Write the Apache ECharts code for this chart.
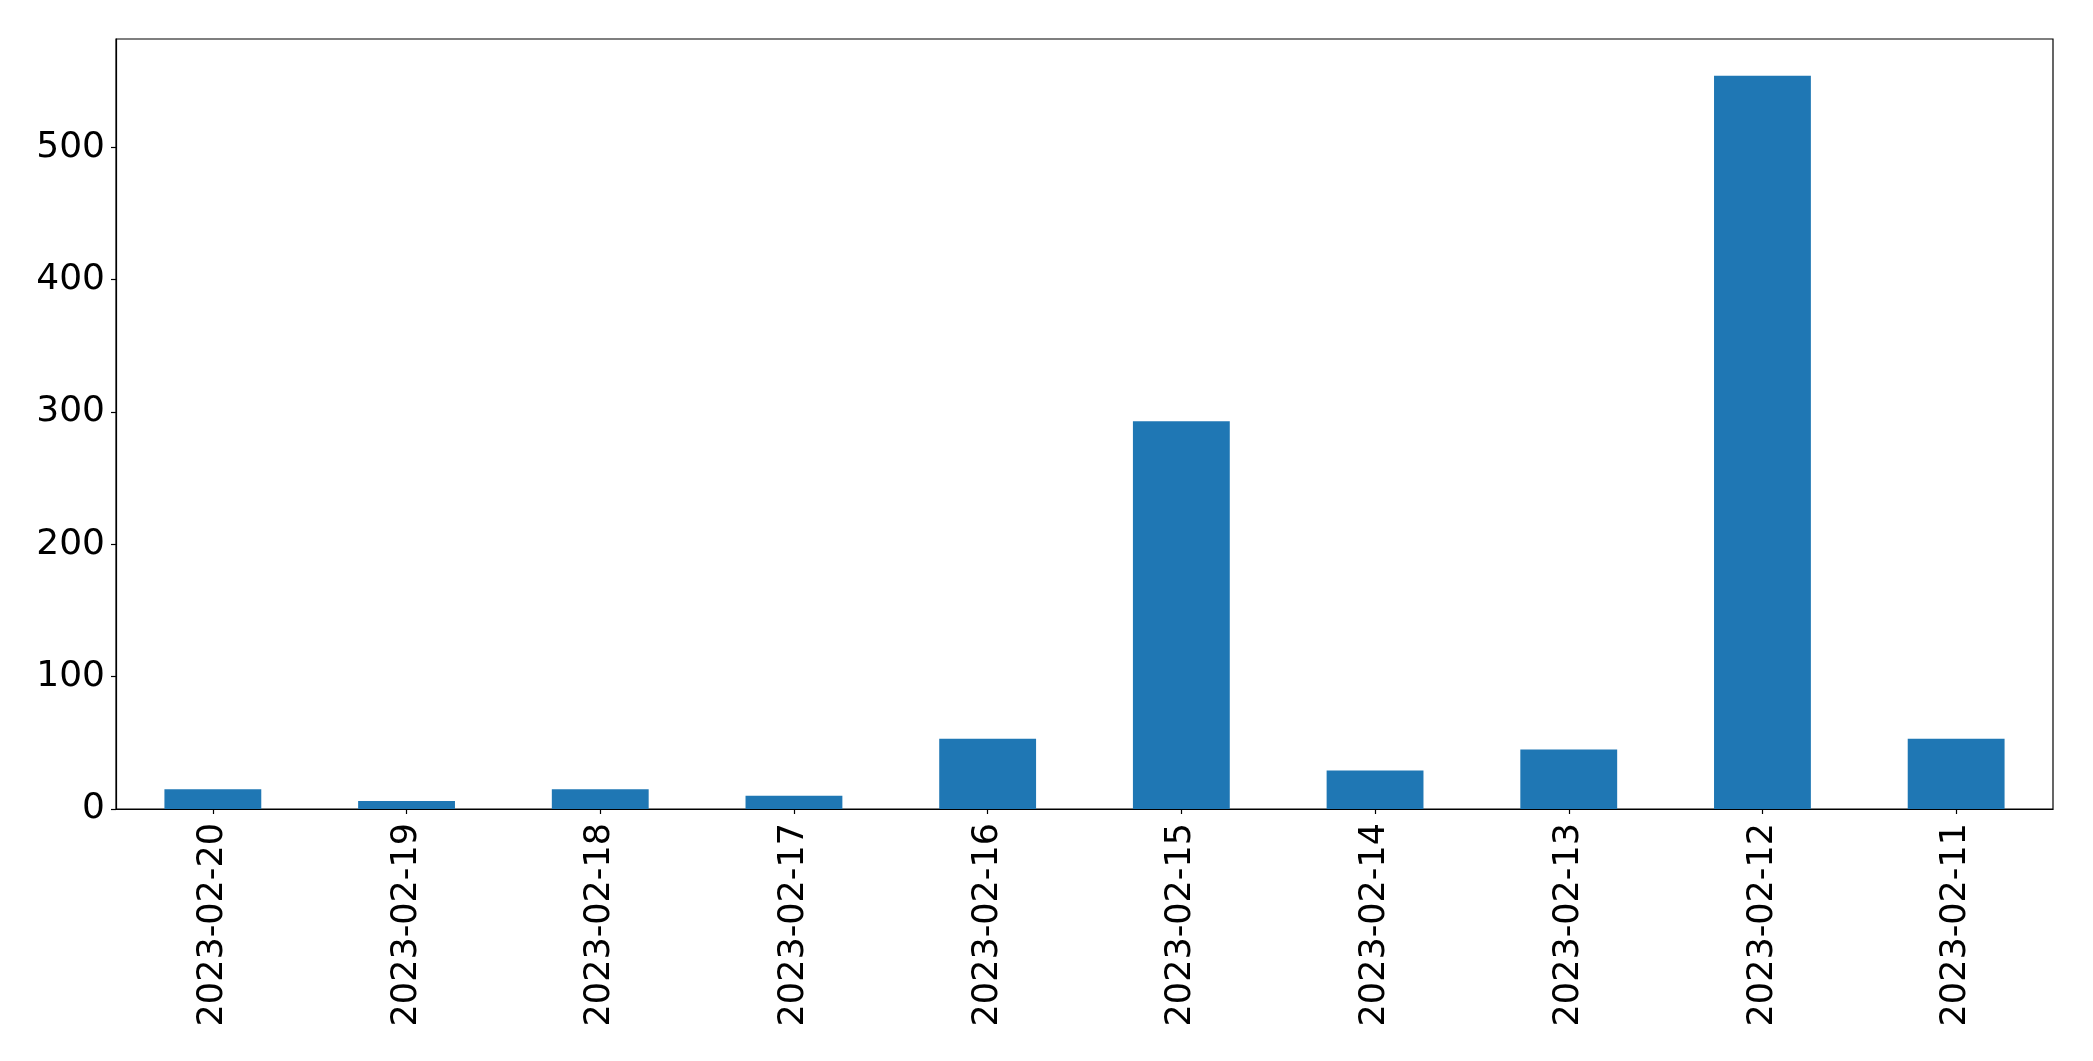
<!DOCTYPE html>
<html>
<head>
<meta charset="utf-8">
<script src="https://cdn.jsdelivr.net/npm/echarts@6/dist/echarts.min.js"></script>
<style>
html,body{margin:0;padding:0;background:#fff;}
#chart{width:2093px;height:1061px;}
</style>
</head>
<body>
<div id="chart"></div>
<script>
const categories = ["2023-02-20","2023-02-19","2023-02-18","2023-02-17","2023-02-16","2023-02-15","2023-02-14","2023-02-13","2023-02-12","2023-02-11"];
const values = [15, 6, 15, 10, 53, 293, 29, 45, 554, 53];
const yTicks = [0, 100, 200, 300, 400, 500];

const chart = echarts.init(document.getElementById('chart'), null, {renderer: 'canvas'});
const font = 'DejaVu Sans';
chart.setOption({
  animation: false,
  backgroundColor: '#ffffff',
  grid: {left: 116, right: 40, top: 39, bottom: 252, show: true, borderColor: '#000', borderWidth: 1.2, backgroundColor: 'transparent'},
  xAxis: {
    type: 'category',
    data: categories,
    axisLine: {lineStyle: {color: '#000', width: 1.2}},
    axisTick: {show: true, alignWithLabel: true, length: 5, lineStyle: {color: '#000', width: 1.2}},
    axisLabel: {rotate: 90, margin: 14, fontSize: 35, color: '#000', fontFamily: font, interval: 0},
    splitLine: {show: false}
  },
  yAxis: {
    type: 'value',
    min: 0,
    max: 554 * 1.05,
    interval: 100,
    axisLine: {show: true, lineStyle: {color: '#000', width: 1.2}},
    axisTick: {show: true, length: 5, lineStyle: {color: '#000', width: 1.2},
      customValues: yTicks},
    axisLabel: {margin: 11, fontSize: 36, color: '#000', fontFamily: font,
      padding: [6, 0, 0, 0], customValues: yTicks},
    splitLine: {show: false}
  },
  series: [{
    type: 'bar',
    data: values,
    barCategoryGap: '50%',
    itemStyle: {color: '#1f77b4'}
  }]
});
</script>
</body>
</html>
